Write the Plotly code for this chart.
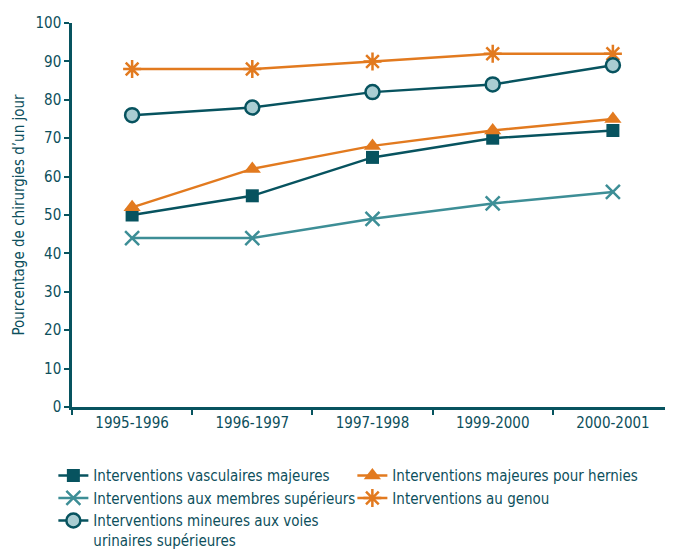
import plotly.graph_objects as go

periods = ["1995-1996", "1996-1997", "1997-1998", "1999-2000", "2000-2001"]
vasculaires = [50, 55, 65, 70, 72]
hernies = [52, 62, 68, 72, 75]
membres = [44, 44, 49, 53, 56]
genou = [88, 88, 90, 92, 92]
voies = [76, 78, 82, 84, 89]

DARK = "#07535f"
ORANGE = "#e27a1f"
TEAL = "#3d8e96"
LIGHT = "#a9cdd2"
TXT = "#0d4f5c"
FONT = "DejaVu Sans Condensed, Roboto"

fig = go.Figure()
fig.add_trace(go.Scatter(x=periods, y=vasculaires, name="Interventions vasculaires majeures",
    mode="lines+markers", line=dict(color=DARK, width=2.5),
    marker=dict(symbol="square", size=13, color=DARK)))
fig.add_trace(go.Scatter(x=periods, y=hernies, name="Interventions majeures pour hernies",
    mode="lines+markers", line=dict(color=ORANGE, width=2.5),
    marker=dict(symbol="triangle-up", size=15, color=ORANGE)))
fig.add_trace(go.Scatter(x=periods, y=membres, name="Interventions aux membres supérieurs",
    mode="lines+markers", line=dict(color=TEAL, width=2.5),
    marker=dict(symbol="x-thin", size=14, color=TEAL, line=dict(color=TEAL, width=2.5))))
fig.add_trace(go.Scatter(x=periods, y=genou, name="Interventions au genou",
    mode="lines+markers", line=dict(color=ORANGE, width=2.5),
    marker=dict(symbol="asterisk", size=15, color=ORANGE, line=dict(color=ORANGE, width=2.5))))
fig.add_trace(go.Scatter(x=periods, y=voies, name="Interventions mineures aux voies<br>urinaires supérieures",
    mode="lines+markers", line=dict(color=DARK, width=2.5),
    marker=dict(symbol="circle", size=14, color=LIGHT, line=dict(color=DARK, width=2.5))))

fig.update_layout(
    width=673, height=550,
    margin=dict(l=64, r=8, t=15, b=151, autoexpand=False),
    plot_bgcolor="white", paper_bgcolor="white",
    font=dict(family=FONT, size=15, color=TXT),
    showlegend=True,
    legend=dict(orientation="h", x=-0.031, xanchor="left", y=-0.136, yanchor="top",
                entrywidth=254, entrywidthmode="pixels", valign="top",
                font=dict(family=FONT, size=15, color=TXT), tracegroupgap=0,
                itemwidth=30, bgcolor="rgba(0,0,0,0)"),
    xaxis=dict(type="category", tickson="boundaries", ticks="outside", ticklen=5,
               tickcolor=DARK, tickwidth=2, showline=True, linecolor=DARK, linewidth=2.5,
               showgrid=False, zeroline=False, tickfont=dict(size=15, color=TXT),
               range=[-0.5, 4.5]),
    yaxis=dict(range=[0, 100], dtick=10, ticks="outside", ticklen=5, tickcolor=DARK,
               tickwidth=2, showline=True, linecolor=DARK, linewidth=2.5, showgrid=False,
               zeroline=False, tickfont=dict(size=15, color=TXT),
               title=dict(text="Pourcentage de chirurgies d\u2019un jour", font=dict(size=15, color=TXT), standoff=8)),
)

fig.write_html("out.html")
